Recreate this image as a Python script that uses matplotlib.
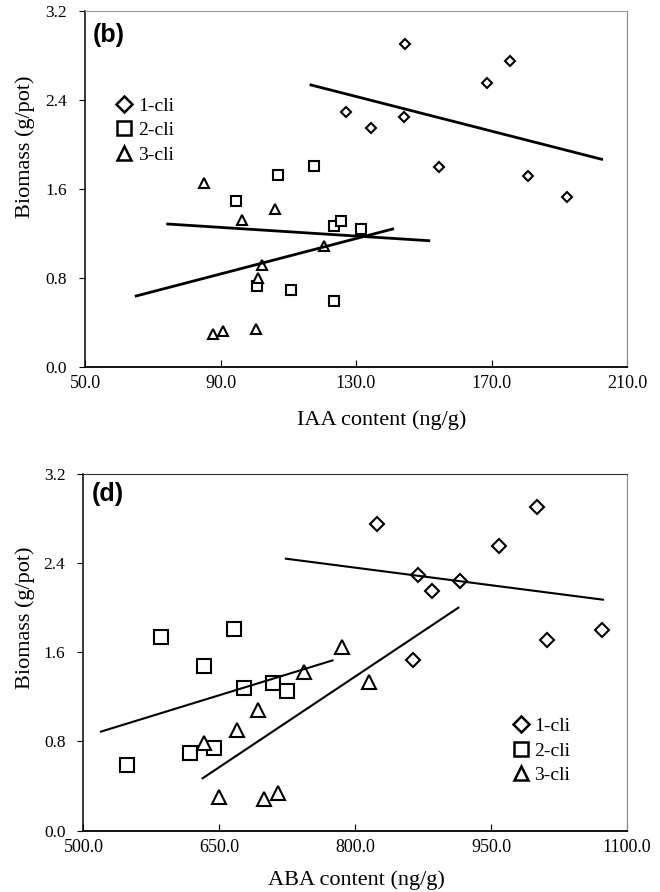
import matplotlib
matplotlib.use("Agg")
import matplotlib.pyplot as plt
from matplotlib.lines import Line2D

plt.rcParams["font.family"] = ["Liberation Serif", "DejaVu Serif"]

# ── Panel (b): IAA content vs biomass ──────────────────────────────────
iaa_1cli_x = [144.5, 175.5, 168.6, 127.0, 134.4, 144.1, 154.6, 180.9, 192.2]
iaa_1cli_y = [2.90, 2.75, 2.55, 2.29, 2.15, 2.25, 1.80, 1.72, 1.53]
iaa_2cli_x = [117.6, 107.1, 94.6, 123.5, 125.5, 131.4, 100.7, 110.8, 123.5]
iaa_2cli_y = [1.81, 1.73, 1.49, 1.27, 1.31, 1.24, 0.73, 0.69, 0.59]
iaa_3cli_x = [85.2, 106.1, 96.4, 120.6, 102.3, 101.2, 87.9, 90.6, 100.4]
iaa_3cli_y = [1.65, 1.42, 1.32, 1.09, 0.92, 0.80, 0.30, 0.32, 0.34]
# trend lines (start/end)
iaa_fit1_x, iaa_fit1_y = [116.7, 202.5], [2.535, 1.867]
iaa_fit2_x, iaa_fit2_y = [74.4, 151.5], [1.285, 1.135]
iaa_fit3_x, iaa_fit3_y = [65.1, 140.8], [0.638, 1.24]
iaa_ticks = [50.0, 90.0, 130.0, 170.0, 210.0]

# ── Panel (d): ABA content vs biomass ──────────────────────────────────
aba_1cli_x = [824.1, 1001.0, 958.3, 869.0, 916.0, 884.7, 1072.7, 1012.0, 863.8]
aba_1cli_y = [2.75, 2.90, 2.55, 2.29, 2.24, 2.15, 1.80, 1.71, 1.53]
aba_2cli_x = [585.8, 666.4, 632.9, 677.4, 708.7, 724.5, 617.1, 644.0, 547.6]
aba_2cli_y = [1.74, 1.81, 1.48, 1.28, 1.32, 1.25, 0.70, 0.74, 0.59]
aba_3cli_x = [785.9, 815.3, 743.6, 692.1, 669.3, 633.3, 649.8, 699.1, 714.5]
aba_3cli_y = [1.65, 1.33, 1.42, 1.08, 0.90, 0.79, 0.30, 0.28, 0.34]
aba_fit1_x, aba_fit1_y = [723.4, 1073.4], [2.44, 2.072]
aba_fit2_x, aba_fit2_y = [519.3, 774.9], [0.888, 1.527]
aba_fit3_x, aba_fit3_y = [631.5, 913.8], [0.469, 2.00]
aba_ticks = [500.0, 650.0, 800.0, 950.0, 1100.0]

y_ticks = [0.0, 0.8, 1.6, 2.4, 3.2]
labels = ["1-cli", "2-cli", "3-cli"]
markers = ["D", "s", "^"]

fig = plt.figure(figsize=(6.6, 8.92), dpi=100)
ax1 = fig.add_axes([0.1288, 0.5886, 0.8212, 0.3991])
ax2 = fig.add_axes([0.1265, 0.0689, 0.8235, 0.3997])


def style_axes(ax, xticks, xlabel, xlab_pos, ylab_pos, tag, tag_y, top_col):
    ax.set_ylim(0, 3.2)
    ax.set_xlim(xticks[0], xticks[-1])
    ax.set_xticks(xticks)
    ax.set_xticklabels([f"{t:.1f}" for t in xticks])
    ax.set_yticks(y_ticks)
    ax.set_yticklabels([f"{t:.1f}" for t in y_ticks])
    ax.tick_params(axis="x", direction="in", length=5, width=0.8, pad=6,
                   labelsize=13)
    ax.tick_params(axis="y", direction="out", length=4, width=0.8, pad=9,
                   labelsize=12.5)
    ax.spines["left"].set_color("black")
    ax.spines["bottom"].set_color("black")
    ax.spines["bottom"].set_linewidth(1.3)
    ax.spines["left"].set_linewidth(1.1)
    ax.spines["top"].set_color(top_col)
    ax.spines["right"].set_color("#888888")
    ax.set_xlabel(xlabel, fontsize=16)
    ax.set_ylabel("Biomass (g/pot)", fontsize=16)
    ax.xaxis.set_label_coords(*xlab_pos)
    ax.yaxis.set_label_coords(*ylab_pos)
    ax.text(0.015, tag_y, tag, transform=ax.transAxes, ha="left", va="top",
            fontsize=18, fontweight="bold", family="Liberation Sans")


def draw_points(ax, xs, ys, ms):
    for x, y, m in zip(xs, ys, markers):
        size = ms * 0.8 if m == "D" else ms
        ax.plot(x, y, linestyle="none", marker=m, markersize=size,
                markerfacecolor="white", markeredgecolor="black",
                markeredgewidth=1.5)


def add_legend(ax, anchor, ms):
    handles = [Line2D([], [], linestyle="none", marker=m,
                      markersize=ms * 0.8 if m == "D" else ms,
                      markerfacecolor="white", markeredgecolor="black",
                      markeredgewidth=1.8)
               for m in markers]
    ax.legend(handles, labels, loc="upper left", bbox_to_anchor=anchor,
              frameon=False, fontsize=14, handlelength=0.8,
              handletextpad=0.3, labelspacing=0.35, borderpad=0)


# panel (b)
draw_points(ax1, [iaa_1cli_x, iaa_2cli_x, iaa_3cli_x],
            [iaa_1cli_y, iaa_2cli_y, iaa_3cli_y], 7)
for fx, fy in [(iaa_fit1_x, iaa_fit1_y), (iaa_fit2_x, iaa_fit2_y),
               (iaa_fit3_x, iaa_fit3_y)]:
    ax1.plot(fx, fy, color="black", linewidth=2.0)
style_axes(ax1, iaa_ticks, "IAA content (ng/g)", (0.548, -0.121),
           (-0.092, 0.62), "(b)", 0.965, "#999999")
add_legend(ax1, (0.04, 0.785), 10)

# panel (d)
draw_points(ax2, [aba_1cli_x, aba_2cli_x, aba_3cli_x],
            [aba_1cli_y, aba_2cli_y, aba_3cli_y], 9.5)
for fx, fy in [(aba_fit1_x, aba_fit1_y), (aba_fit2_x, aba_fit2_y),
               (aba_fit3_x, aba_fit3_y)]:
    ax2.plot(fx, fy, color="black", linewidth=1.5)
style_axes(ax2, aba_ticks, "ABA content (ng/g)", (0.503, -0.111),
           (-0.089, 0.597), "(d)", 0.978, "#333333")
add_legend(ax2, (0.772, 0.344), 10)

fig.savefig("out.png", dpi=100)
